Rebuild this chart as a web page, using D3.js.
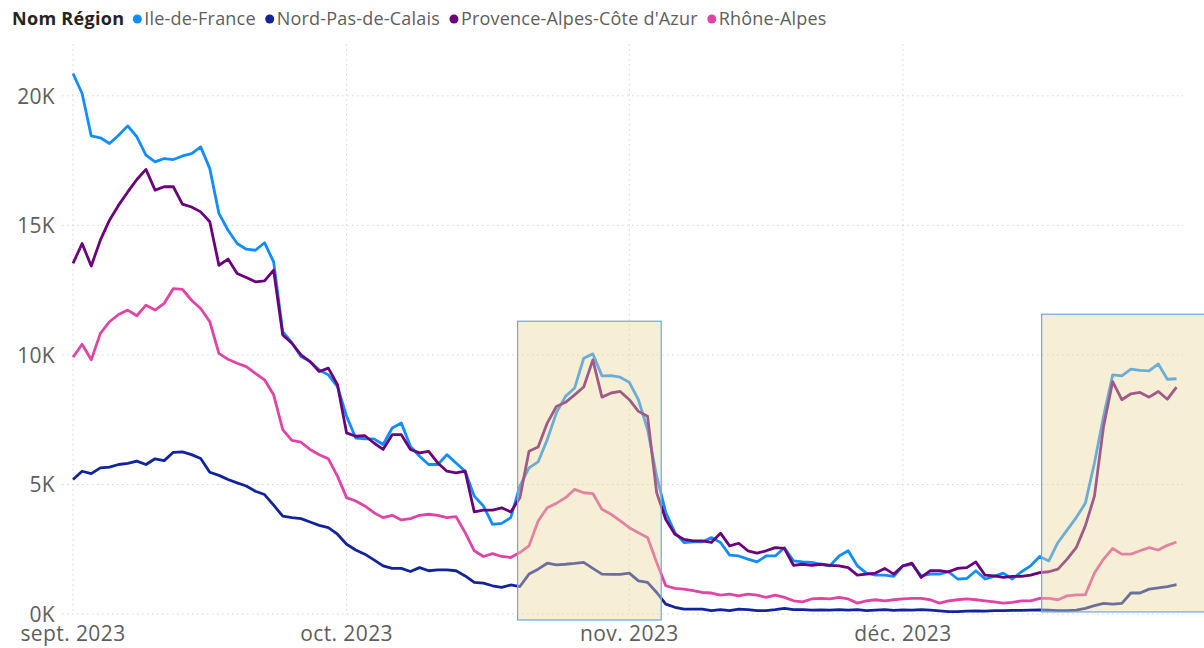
<!DOCTYPE html>
<html>
<head>
<meta charset="utf-8">
<script src="https://cdn.jsdelivr.net/npm/d3@7"></script>
<style>
  html, body { margin: 0; padding: 0; background: #fff; }
  svg { display: block; font-family: "Segoe UI", "Open Sans", sans-serif; }
</style>
</head>
<body>
<svg id="chart" width="1204" height="648"></svg>
<script>
// daily values, 1 sept 2023 -> 31 dec 2023
const startDate = new Date(Date.UTC(2023, 8, 1));
const endDate = new Date(Date.UTC(2023, 11, 31));

const regions = ["Ile-de-France", "Nord-Pas-de-Calais", "Provence-Alpes-Côte d'Azur", "Rhône-Alpes"];
const regionColors = ["#118DFF", "#12239E", "#6B007B", "#E044A7"];

const ileDeFrance = [
  20860, 20090, 18450, 18380, 18160, 18480, 18840, 18420, 17710, 17450, 17580, 17540, 17680, 17770, 18030, 17190, 15460, 14810, 14300, 14080, 14040, 14330, 13590,
  10900, 10470, 9940, 9740, 9420, 9230, 8780, 7630, 6790, 6760, 6760, 6540, 7180, 7370, 6470, 6090, 5770, 5770, 6150, 5830, 5510, 4550, 4170, 3460, 3500, 3720, 4940,
  5640, 5870, 6730, 7760, 8400, 8720, 9870, 10040, 9190, 9200, 9140, 8940, 8270, 7120, 5320, 3910, 3140, 2760, 2780, 2780, 2950, 2760, 2270, 2240, 2120, 2010, 2240, 2240, 2560, 2050,
  2010, 1990, 1920, 1860, 2240, 2440, 1860, 1580, 1500, 1500, 1450, 1860, 1920, 1470, 1540, 1540, 1630, 1350, 1370, 1670, 1350, 1450, 1580, 1350, 1630, 1860, 2220,
  2050, 2760, 3240, 3720, 4270, 5830, 7630, 9230, 9190, 9450, 9400, 9380, 9650, 9060, 9080
];
const nordPasDeCalais = [
  5190, 5510, 5420, 5640, 5670, 5770, 5810, 5900, 5770, 5990, 5920, 6240, 6260, 6150, 6000, 5470, 5350, 5190, 5060, 4940, 4740, 4610, 4200,
  3780, 3720, 3680, 3550, 3420, 3330, 3080, 2690, 2470, 2310, 2090, 1860, 1760, 1760, 1640, 1790, 1670, 1700, 1700, 1670, 1470, 1220, 1190, 1090, 1030, 1120, 1060,
  1540, 1730, 1960, 1900, 1920, 1950, 1990, 1760, 1540, 1530, 1530, 1580, 1280, 1220, 830, 380, 260, 190, 190, 190, 130, 170, 130, 190, 170, 130, 130, 170, 220, 170,
  170, 150, 160, 150, 170, 150, 170, 130, 150, 170, 140, 160, 150, 170, 150, 120, 90, 90, 110, 120, 110, 130, 130, 140, 140, 150, 160,
  150, 130, 130, 150, 220, 320, 410, 380, 410, 810, 810, 960, 1010, 1060, 1130
];
const provence = [
  13530, 14300, 13430, 14430, 15200, 15780, 16290, 16770, 17160, 16360, 16490, 16490, 15820, 15710, 15520, 15140, 13460, 13700, 13140, 12990, 12820, 12860, 13270,
  10770, 10450, 10000, 9740, 9360, 9490, 8850, 6990, 6860, 6880, 6600, 6350, 6920, 6920, 6350, 6220, 6280, 5830, 5510, 5450, 5510, 3940, 4010, 4010, 4100, 3940, 4490,
  6280, 6450, 7370, 8010, 8170, 8460, 8760, 9810, 8370, 8530, 8590, 8270, 7820, 7630, 4680, 3650, 3080, 2880, 2820, 2820, 2760, 3120, 2630, 2730, 2440, 2350, 2440, 2560, 2530, 1880,
  1920, 1880, 1920, 1880, 1860, 1790, 1500, 1540, 1580, 1760, 1540, 1860, 1960, 1410, 1670, 1670, 1630, 1760, 1790, 2010, 1500, 1470, 1410, 1450, 1450, 1500, 1600,
  1630, 1730, 2120, 2560, 3400, 4550, 7240, 8970, 8270, 8500, 8550, 8370, 8590, 8290, 8760
];
const rhoneAlpes = [
  9910, 10410, 9810, 10830, 11280, 11560, 11730, 11510, 11920, 11730, 11990, 12560, 12530, 12110, 11790, 11280, 10060, 9830, 9680, 9550, 9290, 9040, 8460,
  7120, 6700, 6630, 6350, 6150, 5990, 5320, 4490, 4360, 4170, 3910, 3720, 3810, 3630, 3680, 3810, 3850, 3810, 3720, 3760, 3140, 2440, 2220, 2330, 2220, 2180, 2370,
  2630, 3590, 4100, 4270, 4490, 4810, 4680, 4650, 4040, 3850, 3590, 3330, 3140, 2950, 1990, 1090, 990, 960, 900, 830, 810, 730, 770, 700, 770, 730, 640, 730, 640, 510,
  470, 580, 600, 580, 640, 580, 420, 510, 550, 510, 550, 580, 600, 600, 550, 420, 510, 550, 580, 550, 510, 470, 420, 450, 510, 510, 600,
  600, 550, 700, 740, 740, 1580, 2120, 2530, 2310, 2310, 2440, 2560, 2470, 2650, 2780
];
const seriesValues = [ileDeFrance, nordPasDeCalais, provence, rhoneAlpes];

const monthTicks = [new Date(Date.UTC(2023, 8, 1)), new Date(Date.UTC(2023, 9, 1)), new Date(Date.UTC(2023, 10, 1)), new Date(Date.UTC(2023, 11, 1))];
const monthLabels = ["sept. 2023", "oct. 2023", "nov. 2023", "déc. 2023"];
const yTicks = [0, 5000, 10000, 15000, 20000];
const yTickLabels = ["0K", "5K", "10K", "15K", "20K"];

// highlighted periods (date range, value range)
const highlightStart = [new Date(Date.UTC(2023, 9, 19, 18)), new Date(Date.UTC(2023, 11, 16, 5))];
const highlightEnd = [new Date(Date.UTC(2023, 10, 4, 12)), new Date(Date.UTC(2024, 0, 4))];
const highlightTop = [11300, 11570];
const highlightBottom = [-230, 80];

const svg = d3.select('#chart');
const width = 1204, height = 648;
const margin = { top: 44, left: 73, bottom: 34 };
const plotRight = 1183;

const x = d3.scaleUtc()
  .domain([startDate, endDate])
  .range([margin.left, margin.left + 121 * 9.12]);
const y = d3.scaleLinear()
  .domain([0, 22000])
  .range([height - margin.bottom, margin.top]);

const days = d3.utcDay.range(startDate, d3.utcDay.offset(endDate, 1));

// gridlines
svg.append('g').selectAll('line')
  .data(yTicks)
  .enter().append('line')
  .attr('x1', 62).attr('x2', plotRight)
  .attr('y1', d => y(d)).attr('y2', d => y(d))
  .attr('stroke', '#d6d6d6')
  .attr('stroke-width', 1)
  .attr('stroke-dasharray', '1.5,3.5');

svg.append('g').selectAll('line')
  .data(monthTicks)
  .enter().append('line')
  .attr('x1', d => x(d)).attr('x2', d => x(d))
  .attr('y1', margin.top).attr('y2', y(0))
  .attr('stroke', '#d6d6d6')
  .attr('stroke-width', 1)
  .attr('stroke-dasharray', '1.5,3.5');

// y labels
svg.append('g').selectAll('text')
  .data(yTicks)
  .enter().append('text')
  .attr('x', 55)
  .attr('y', d => y(d) + 8)
  .attr('text-anchor', 'end')
  .attr('fill', '#605E5C')
  .style('font-size', '21px')
  .style('letter-spacing', '0.3px')
  .text((d, i) => yTickLabels[i]);

// x labels
svg.append('g').selectAll('text')
  .data(monthTicks)
  .enter().append('text')
  .attr('x', d => x(d))
  .attr('y', 641)
  .attr('text-anchor', 'middle')
  .attr('fill', '#605E5C')
  .style('font-size', '21px')
  .style('letter-spacing', '0.4px')
  .text((d, i) => monthLabels[i]);

// lines
const line = d3.line()
  .x((d, i) => x(days[i]))
  .y(d => y(d));

svg.append('g').selectAll('path')
  .data(seriesValues)
  .enter().append('path')
  .attr('d', d => line(d))
  .attr('fill', 'none')
  .attr('stroke', (d, i) => regionColors[i])
  .attr('stroke-width', 2.8)
  .attr('stroke-linejoin', 'round');

// highlight boxes on top
const boxes = svg.append('g');
highlightStart.forEach((s, i) => {
  const x0 = x(s), x1 = Math.min(x(highlightEnd[i]), width + 2);
  const y0 = y(highlightTop[i]), y1 = y(highlightBottom[i]);
  boxes.append('rect')
    .attr('x', x0).attr('y', y0)
    .attr('width', x1 - x0).attr('height', y1 - y0)
    .attr('fill', 'rgb(234,217,158)')
    .attr('fill-opacity', 0.42)
    .attr('stroke', '#6FA9D6')
    .attr('stroke-width', 1.2);
});

// legend
const legend = svg.append('g').attr('transform', 'translate(12,19)');
const title = legend.append('text')
  .attr('x', 0).attr('y', 6)
  .attr('fill', '#252423')
  .style('font-size', '18px')
  .style('font-weight', 'bold')
  .style('letter-spacing', '0.3px')
  .text('Nom Région');
let lx = title.node().getComputedTextLength() + 9;
regions.forEach((r, i) => {
  legend.append('circle')
    .attr('cx', lx + 4).attr('cy', 0).attr('r', 4.5)
    .attr('fill', regionColors[i]);
  const t = legend.append('text')
    .attr('x', lx + 11).attr('y', 6)
    .attr('fill', '#605E5C')
    .style('font-size', '18px')
    .style('letter-spacing', '0.2px')
    .text(r);
  lx += 11 + t.node().getComputedTextLength() + 10;
});
</script>
</body>
</html>
